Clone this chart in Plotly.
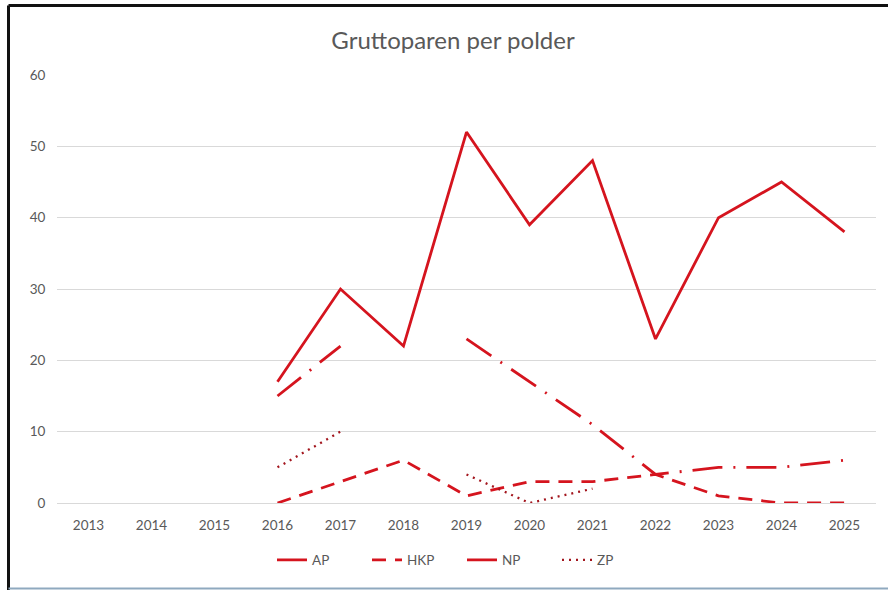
import plotly.graph_objects as go

years = ["2013", "2014", "2015", "2016", "2017", "2018", "2019", "2020", "2021", "2022", "2023", "2024", "2025"]
ap = [None, None, None, 17, 30, 22, 52, 39, 48, 23, 40, 45, 38]
hkp = [None, None, None, 0, 3, 6, 1, 3, 3, 4, 1, 0, 0]
np_ = [None, None, None, 15, 22, None, 23, 17, 11, 4, 5, 5, 6]
zp = [None, None, None, 5, 10, None, 4, 0, 2, None, None, None, None]
y_ticks = [0, 10, 20, 30, 40, 50, 60]

RED = "#d5141e"
FONT = "Lato"
GRAY = "#595959"

fig = go.Figure()
fig.add_trace(go.Scatter(x=years, y=ap, name="AP", mode="lines",
                         line=dict(color=RED, width=2.8, dash="solid")))
fig.add_trace(go.Scatter(x=years, y=hkp, name="HKP", mode="lines",
                         line=dict(color=RED, width=2.8, dash="14px,9px")))
fig.add_trace(go.Scatter(x=years, y=np_, name="NP", mode="lines",
                         line=dict(color=RED, width=2.8, dash="30px,11px,2px,11px")))
fig.add_trace(go.Scatter(x=years, y=zp, name="ZP", mode="lines",
                         line=dict(color="#a3161e", width=2.3, dash="2px,5px")))

W, H = 888, 590
L, R, T, B = 57, 12, 75, 87
pw, ph = W - L - R, H - T - B

def px(x):
    return (x - L) / pw

def py(y):
    return (H - B - y) / ph

fig.update_layout(
    width=W, height=H,
    margin=dict(l=L, r=R, t=T, b=B, autoexpand=False),
    paper_bgcolor="white", plot_bgcolor="white",
    font=dict(family=FONT, color=GRAY, size=13.5),
    title=dict(text="Gruttoparen per polder", x=453 / W, xanchor="center",
               y=1 - 41 / H, yanchor="middle",
               font=dict(family=FONT, size=24, color=GRAY)),
    xaxis=dict(type="category", categoryorder="array", categoryarray=years,
               range=[-0.5, len(years) - 0.5],
               showgrid=False, showline=True, linecolor="#d9d9d9", linewidth=1,
               ticks="outside", ticklen=10, tickcolor="rgba(0,0,0,0)",
               tickfont=dict(size=13.5, color=GRAY), fixedrange=True),
    yaxis=dict(range=[0, 60], tickvals=y_ticks, showgrid=True, gridcolor="#d9d9d9",
               gridwidth=1, zeroline=False, showline=False,
               ticks="outside", ticklen=8, tickcolor="rgba(0,0,0,0)",
               tickfont=dict(size=13.5, color=GRAY), fixedrange=True),
    showlegend=True,
    legend=dict(orientation="h", x=px(462), xanchor="center", y=py(560), yanchor="middle",
                entrywidth=50, entrywidthmode="pixels",
                font=dict(size=13.5, color=GRAY), bgcolor="rgba(0,0,0,0)"),
    shapes=[
        dict(type="line", xref="paper", yref="paper", x0=px(8.5), x1=px(888), y0=py(5.5), y1=py(5.5),
             line=dict(color="#111111", width=3)),
        dict(type="line", xref="paper", yref="paper", x0=px(8.5), x1=px(8.5), y0=py(5.5), y1=py(590),
             line=dict(color="#111111", width=3)),
        dict(type="line", xref="paper", yref="paper", x0=px(8.5), x1=px(888), y0=py(588.5), y1=py(588.5),
             line=dict(color="#8fa9bf", width=2)),
    ],
)

fig.write_html("out.html", config={"displayModeBar": False},
               post_script="document.body.style.margin='0';document.body.style.overflow='hidden';")
